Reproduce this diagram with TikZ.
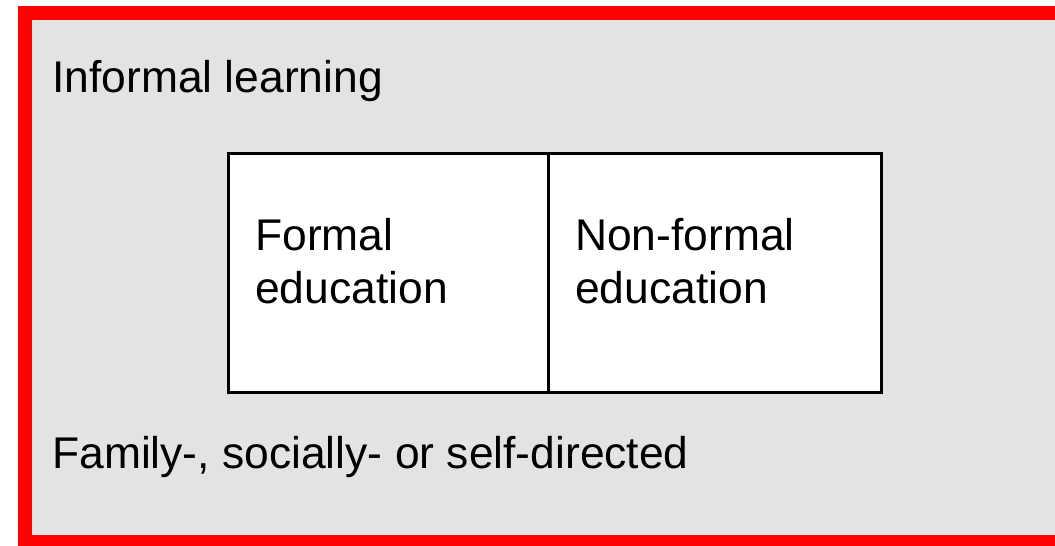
\documentclass[tikz,border=0pt]{standalone}
\usepackage{fontspec}
\setmainfont{Liberation Sans}
\definecolor{bggray}{HTML}{E3E3E3}
\definecolor{framered}{HTML}{FF0000}
\tikzset{
  cell/.style={draw=black, line width=2.5pt, fill=white, inner sep=0pt, anchor=north west},
  lbl/.style={inner sep=0pt, anchor=base west, align=left, font=\fontsize{44.4}{53}\selectfont, text=black}
}
\begin{document}
\begin{tikzpicture}[x=1pt,y=-1pt]
\useasboundingbox (0,0) rectangle (1055,546);
\clip (0,0) rectangle (1055,546);
\fill[white] (0,0) rectangle (1055,546);
\draw[framered, line width=14pt, fill=bggray] (25,13) rectangle (1075,542);
\node[cell, minimum width=320pt, minimum height=239pt] (formal) at (227,152) {};
\node[cell, minimum width=333pt, minimum height=239pt] (nonformal) at (547,152) {};
\node[lbl] (informal) at (52,92) {Informal learning};
\node[lbl] (formaltxt) at (255,303) {Formal\\education};
\node[lbl] (nonformaltxt) at (575,303) {Non-formal\\education};
\node[lbl] (family) at (52,468) {Family-, socially- or self-directed};
\end{tikzpicture}
\end{document}
